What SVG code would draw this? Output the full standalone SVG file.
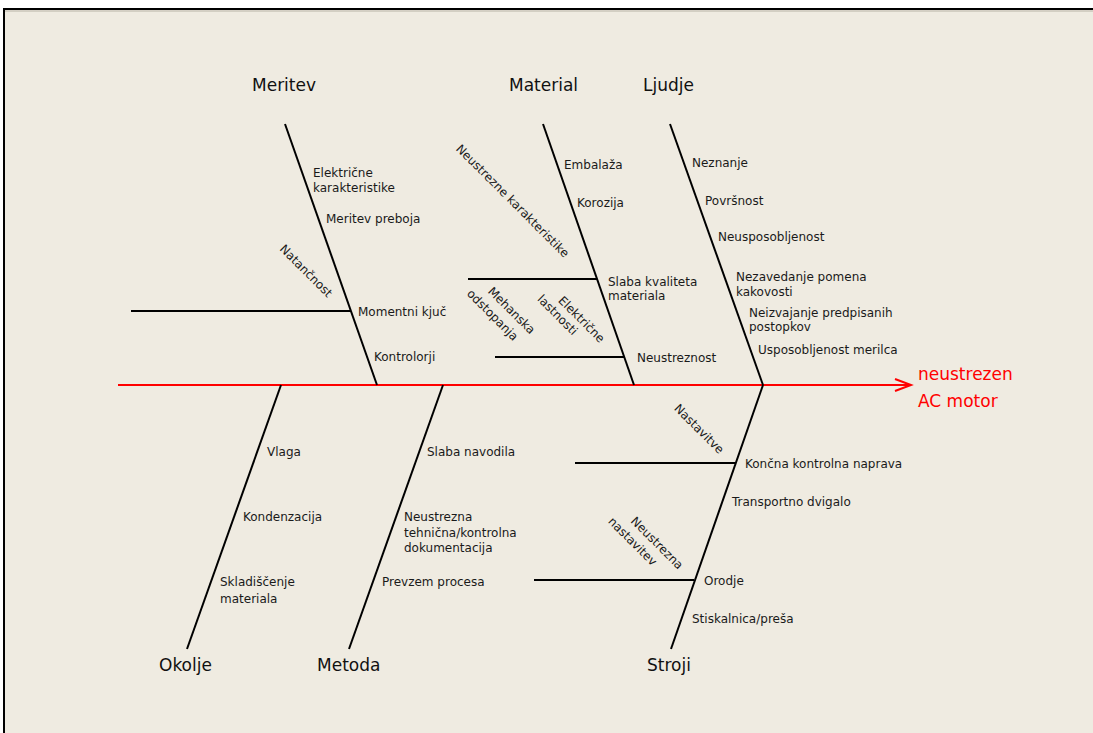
<svg xmlns="http://www.w3.org/2000/svg" width="1093" height="733" viewBox="0 0 1093 733">
<style>
.t{font-family:"DejaVu Sans","Liberation Sans",sans-serif;font-size:12px;fill:#1a1a1a}
.big{font-family:"DejaVu Sans","Liberation Sans",sans-serif;font-size:17px;fill:#111}
.red{font-family:"DejaVu Sans","Liberation Sans",sans-serif;font-size:17px;fill:#ff0000}
.r{text-anchor:middle}
.ln{stroke:#000;stroke-width:2;fill:none}
</style>
<defs>
<marker id="ah" markerWidth="20" markerHeight="14" refX="17" refY="7" orient="auto" markerUnits="userSpaceOnUse">
<path d="M1,1 L17,7 L1,13" fill="none" stroke="#ff0000" stroke-width="2"/>
</marker>
</defs>
<rect x="0" y="0" width="1093" height="733" fill="#ffffff"/>
<rect x="4" y="9" width="1100" height="740" fill="#efebe1" stroke="#000" stroke-width="2"/>
<line x1="5" y1="11" x2="1093" y2="11" stroke="#b8b3a6" stroke-width="1"/>
<g id="connectors">
<line x1="118" y1="385" x2="911" y2="385" stroke="#ff0000" stroke-width="2" marker-end="url(#ah)"/>
<line class="ln" x1="285" y1="124" x2="377" y2="385"/>
<line class="ln" x1="543" y1="124" x2="634" y2="385"/>
<line class="ln" x1="670" y1="124" x2="763" y2="385"/>
<line class="ln" x1="281" y1="385" x2="187" y2="649"/>
<line class="ln" x1="443" y1="385" x2="349" y2="649"/>
<line class="ln" x1="763" y1="385" x2="671" y2="649"/>
<line class="ln" x1="131" y1="311" x2="351" y2="311"/>
<line class="ln" x1="468" y1="279" x2="597" y2="279"/>
<line class="ln" x1="495" y1="357" x2="625" y2="357"/>
<line class="ln" x1="575" y1="463" x2="736" y2="463"/>
<line class="ln" x1="534" y1="580" x2="694" y2="580"/>
</g>
<g id="effect">
<text class="red" x="918" y="380">neustrezen</text>
<text class="red" x="918" y="407">AC motor</text>
</g>
<g id="meritev">
<text class="big" x="252" y="91">Meritev</text>
<text class="t" x="313" y="177">Električne</text>
<text class="t" x="313" y="192">karakteristike</text>
<text class="t" x="326" y="223">Meritev preboja</text>
<text class="t" x="358" y="316">Momentni kjuč</text>
<text class="t" x="374" y="361">Kontrolorji</text>
<text class="t r" transform="translate(306,271) rotate(45)" dy="4">Natančnost</text>
</g>
<g id="material">
<text class="big" x="509" y="91">Material</text>
<text class="t" x="564" y="169">Embalaža</text>
<text class="t" x="577" y="207">Korozija</text>
<text class="t" x="608" y="286">Slaba kvaliteta</text>
<text class="t" x="608" y="300">materiala</text>
<text class="t" x="637" y="362">Neustreznost</text>
<text class="t r" transform="translate(512.5,201) rotate(45)" dy="4">Neustrezne karakteristike</text>
<text class="t r" transform="translate(511.5,310.5) rotate(45)" dy="4">Mehanska</text>
<text class="t r" transform="translate(492.5,315) rotate(45)" dy="4">odstopanja</text>
<text class="t r" transform="translate(581.5,319.5) rotate(45)" dy="4">Električne</text>
<text class="t r" transform="translate(557.5,315) rotate(45)" dy="4">lastnosti</text>
</g>
<g id="ljudje">
<text class="big" x="643" y="91">Ljudje</text>
<text class="t" x="692" y="167">Neznanje</text>
<text class="t" x="705" y="205">Površnost</text>
<text class="t" x="718" y="241">Neusposobljenost</text>
<text class="t" x="736" y="281">Nezavedanje pomena</text>
<text class="t" x="736" y="296">kakovosti</text>
<text class="t" x="749" y="317">Neizvajanje predpisanih</text>
<text class="t" x="749" y="331">postopkov</text>
<text class="t" x="758" y="354">Usposobljenost merilca</text>
</g>
<g id="okolje">
<text class="big" x="159" y="671">Okolje</text>
<text class="t" x="267" y="456">Vlaga</text>
<text class="t" x="243" y="521">Kondenzacija</text>
<text class="t" x="220" y="586">Skladiščenje</text>
<text class="t" x="220" y="603">materiala</text>
</g>
<g id="metoda">
<text class="big" x="317" y="671">Metoda</text>
<text class="t" x="427" y="456">Slaba navodila</text>
<text class="t" x="404" y="521">Neustrezna</text>
<text class="t" x="404" y="537">tehnična/kontrolna</text>
<text class="t" x="404" y="552">dokumentacija</text>
<text class="t" x="382" y="586">Prevzem procesa</text>
</g>
<g id="stroji">
<text class="big" x="647" y="671">Stroji</text>
<text class="t" x="745" y="468">Končna kontrolna naprava</text>
<text class="t" x="732" y="506">Transportno dvigalo</text>
<text class="t" x="704" y="585">Orodje</text>
<text class="t" x="692" y="623">Stiskalnica/preša</text>
<text class="t r" transform="translate(699,429) rotate(45)" dy="4">Nastavitve</text>
<text class="t r" transform="translate(657,543) rotate(45)" dy="4">Neustrezna</text>
<text class="t r" transform="translate(632.5,541.5) rotate(45)" dy="4">nastavitev</text>
</g>
</svg>
